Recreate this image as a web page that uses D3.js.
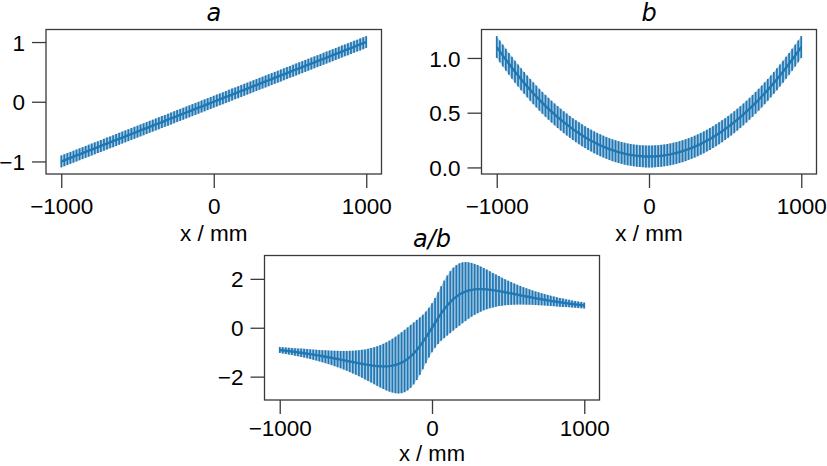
<!DOCTYPE html>
<html>
<head>
<meta charset="utf-8">
<script src="https://cdn.jsdelivr.net/npm/d3@7"></script>
<style>
  html, body { margin: 0; padding: 0; background: #fff; }
  svg { display: block; font-family: "Liberation Sans", Arial, sans-serif; }
</style>
</head>
<body>
<svg id="chart" width="827" height="466"></svg>
<script>
// ---- data ----
const xVals = [-1000,-980,-960,-940,-920,-900,-880,-860,-840,-820,-800,-780,-760,-740,-720,-700,-680,-660,-640,-620,-600,-580,-560,-540,-520,-500,-480,-460,-440,-420,-400,-380,-360,-340,-320,-300,-280,-260,-240,-220,-200,-180,-160,-140,-120,-100,-80,-60,-40,-20,0,20,40,60,80,100,120,140,160,180,200,220,240,260,280,300,320,340,360,380,400,420,440,460,480,500,520,540,560,580,600,620,640,660,680,700,720,740,760,780,800,820,840,860,880,900,920,940,960,980,1000];

const aVals = [-1,-0.98,-0.96,-0.94,-0.92,-0.9,-0.88,-0.86,-0.84,-0.82,-0.8,-0.78,-0.76,-0.74,-0.72,-0.7,-0.68,-0.66,-0.64,-0.62,-0.6,-0.58,-0.56,-0.54,-0.52,-0.5,-0.48,-0.46,-0.44,-0.42,-0.4,-0.38,-0.36,-0.34,-0.32,-0.3,-0.28,-0.26,-0.24,-0.22,-0.2,-0.18,-0.16,-0.14,-0.12,-0.1,-0.08,-0.06,-0.04,-0.02,0,0.02,0.04,0.06,0.08,0.1,0.12,0.14,0.16,0.18,0.2,0.22,0.24,0.26,0.28,0.3,0.32,0.34,0.36,0.38,0.4,0.42,0.44,0.46,0.48,0.5,0.52,0.54,0.56,0.58,0.6,0.62,0.64,0.66,0.68,0.7,0.72,0.74,0.76,0.78,0.8,0.82,0.84,0.86,0.88,0.9,0.92,0.94,0.96,0.98,1];
const aErr = 0.1;

const bVals = [1.1,1.0604,1.0216,0.9836,0.9464,0.91,0.8744,0.8396,0.8056,0.7724,0.74,0.7084,0.6776,0.6476,0.6184,0.59,0.5624,0.5356,0.5096,0.4844,0.46,0.4364,0.4136,0.3916,0.3704,0.35,0.3304,0.3116,0.2936,0.2764,0.26,0.2444,0.2296,0.2156,0.2024,0.19,0.1784,0.1676,0.1576,0.1484,0.14,0.1324,0.1256,0.1196,0.1144,0.11,0.1064,0.1036,0.1016,0.1004,0.1,0.1004,0.1016,0.1036,0.1064,0.11,0.1144,0.1196,0.1256,0.1324,0.14,0.1484,0.1576,0.1676,0.1784,0.19,0.2024,0.2156,0.2296,0.2444,0.26,0.2764,0.2936,0.3116,0.3304,0.35,0.3704,0.3916,0.4136,0.4364,0.46,0.4844,0.5096,0.5356,0.5624,0.59,0.6184,0.6476,0.6776,0.7084,0.74,0.7724,0.8056,0.8396,0.8744,0.91,0.9464,0.9836,1.0216,1.0604,1.1];
const bErr = 0.1;

const rVals = [-0.909,-0.924,-0.940,-0.956,-0.972,-0.989,-1.006,-1.024,-1.043,-1.062,-1.081,-1.101,-1.122,-1.143,-1.164,-1.186,-1.209,-1.232,-1.256,-1.280,-1.304,-1.329,-1.354,-1.379,-1.404,-1.429,-1.453,-1.476,-1.499,-1.520,-1.538,-1.555,-1.568,-1.577,-1.581,-1.579,-1.570,-1.551,-1.523,-1.482,-1.429,-1.360,-1.274,-1.171,-1.049,-0.909,-0.752,-0.579,-0.394,-0.199,0,0.199,0.394,0.579,0.752,0.909,1.049,1.171,1.274,1.360,1.429,1.482,1.523,1.551,1.570,1.579,1.581,1.577,1.568,1.555,1.538,1.520,1.499,1.476,1.453,1.429,1.404,1.379,1.354,1.329,1.304,1.280,1.256,1.232,1.209,1.186,1.164,1.143,1.122,1.101,1.081,1.062,1.043,1.024,1.006,0.989,0.972,0.956,0.940,0.924,0.909];
const rErr = [0.123,0.128,0.134,0.141,0.147,0.155,0.162,0.171,0.179,0.189,0.199,0.210,0.222,0.235,0.248,0.263,0.279,0.296,0.315,0.335,0.357,0.381,0.407,0.435,0.465,0.498,0.534,0.572,0.614,0.658,0.706,0.756,0.810,0.866,0.924,0.984,1.043,1.101,1.156,1.205,1.246,1.275,1.289,1.287,1.267,1.229,1.176,1.115,1.058,1.016,1.000,1.016,1.058,1.115,1.176,1.229,1.267,1.287,1.289,1.275,1.246,1.205,1.156,1.101,1.043,0.984,0.924,0.866,0.810,0.756,0.706,0.658,0.614,0.572,0.534,0.498,0.465,0.435,0.407,0.381,0.357,0.335,0.315,0.296,0.279,0.263,0.248,0.235,0.222,0.210,0.199,0.189,0.179,0.171,0.162,0.155,0.147,0.141,0.134,0.128,0.123];

const xTicks = [-1000, 0, 1000];
const aTicks = [-1, 0, 1];
const bTicks = [0, 0.5, 1.0];
const rTicks = [-2, 0, 2];

// ---- drawing ----
const svg = d3.select("#chart");
const BLUE = "#1f77b4";
const AX = "#3a3a3a";
const TICK = 14, PAD = 7;
const LABEL_FONT = "22.5px";

function pad(ext, f) { const d = ext[1] - ext[0]; return [ext[0] - d * f, ext[1] + d * f]; }

function panel(opts) {
  const { left, right, top, bottom, vals, errs, yTicks, yFmt, title, xLabelY, xLabelSize, xTickY } = opts;
  const data = xVals.map((x, i) => ({ x, y: vals[i], e: Array.isArray(errs) ? errs[i] : errs }));
  const xs = d3.scaleLinear().domain(pad(d3.extent(xVals), 0.05)).range([left, right]);
  const ylo = d3.min(data, d => d.y - d.e), yhi = d3.max(data, d => d.y + d.e);
  const ys = d3.scaleLinear().domain(pad([ylo, yhi], 0.05)).range([bottom, top]);

  const g = svg.append("g");

  // light error band between bars
  g.append("path").datum(data)
    .attr("d", d3.area().x(d => xs(d.x)).y0(d => ys(d.y - d.e)).y1(d => ys(d.y + d.e)))
    .attr("fill", BLUE).attr("fill-opacity", 0.38).attr("stroke", "none");

  // error bars
  g.append("g").selectAll("line").data(data).join("line")
    .attr("x1", d => xs(d.x)).attr("x2", d => xs(d.x))
    .attr("y1", d => ys(d.y - d.e)).attr("y2", d => ys(d.y + d.e))
    .attr("stroke", BLUE).attr("stroke-width", 1.7);

  // central line
  g.append("path").datum(data)
    .attr("d", d3.line().x(d => xs(d.x)).y(d => ys(d.y)))
    .attr("fill", "none").attr("stroke", BLUE).attr("stroke-width", 2.4);

  // axes
  const xa = g.append("g").attr("transform", `translate(0,${bottom})`)
    .call(d3.axisBottom(xs).tickValues(xTicks).tickSizeInner(TICK).tickSizeOuter(0).tickPadding(PAD).tickFormat(d3.format("d")));
  const ya = g.append("g").attr("transform", `translate(${left},0)`)
    .call(d3.axisLeft(ys).tickValues(yTicks).tickSizeInner(TICK).tickSizeOuter(0).tickPadding(PAD).tickFormat(yFmt));
  [xa, ya].forEach(a => {
    a.select(".domain").remove();
    a.selectAll(".tick line").attr("stroke", AX).attr("stroke-width", 1.3);
    a.selectAll(".tick text").attr("fill", "#000").style("font-size", LABEL_FONT)
      .style("font-family", "'Liberation Sans', Arial, sans-serif");
  });
  xa.selectAll(".tick text").attr("dy", null).attr("y", xTickY);
  ya.selectAll(".tick text").attr("dy", "0.36em");

  // frame
  g.append("rect").attr("x", left).attr("y", top)
    .attr("width", right - left).attr("height", bottom - top)
    .attr("fill", "none").attr("stroke", AX).attr("stroke-width", 1.3);

  // title
  g.append("text").attr("x", (left + right) / 2).attr("y", top - 9)
    .attr("text-anchor", "middle").style("font-size", "24px").style("font-style", "italic")
    .style("font-family", "'DejaVu Sans', sans-serif")
    .text(title);

  // x label
  g.append("text").attr("x", (left + right) / 2).attr("y", xLabelY)
    .attr("text-anchor", "middle").style("font-size", xLabelSize)
    .text("x / mm");
}

panel({ left: 46, right: 381.5, top: 29.5, bottom: 174, vals: aVals, errs: aErr,
        yTicks: aTicks, yFmt: d3.format("d"), title: "a", xLabelY: 241, xLabelSize: LABEL_FONT, xTickY: 39.5 });
panel({ left: 481.5, right: 816.5, top: 29.5, bottom: 174, vals: bVals, errs: bErr,
        yTicks: bTicks, yFmt: d3.format(".1f"), title: "b", xLabelY: 241, xLabelSize: LABEL_FONT, xTickY: 39.5 });
panel({ left: 264.5, right: 599.5, top: 255.5, bottom: 400, vals: rVals, errs: rErr,
        yTicks: rTicks, yFmt: d3.format("d"), title: "a/b", xLabelY: 461, xLabelSize: "22px", xTickY: 36 });
</script>
</body>
</html>
